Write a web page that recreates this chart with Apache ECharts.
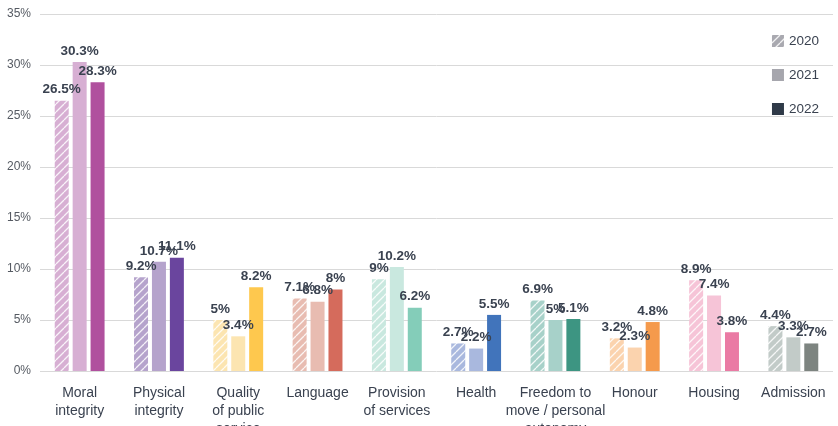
<!DOCTYPE html>
<html>
<head>
<meta charset="utf-8">
<script src="https://cdn.jsdelivr.net/npm/echarts@6/dist/echarts.min.js"></script>
<style>
    html, body { margin: 0; padding: 0; background: #fff; }
    #chart { width: 838px; height: 426px; }
</style>
</head>
<body>
<div id="chart"></div>
<script>
const categories = [
    "Moral\nintegrity",
    "Physical\nintegrity",
    "Quality\nof public\nservice",
    "Language",
    "Provision\nof services",
    "Health",
    "Freedom to\nmove / personal\nautonomy",
    "Honour",
    "Housing",
    "Admission"
];

const years = ["2020", "2021", "2022"];

const values2020 = [26.5, 9.2, 5, 7.1, 9, 2.7, 6.9, 3.2, 8.9, 4.4];
const values2021 = [30.3, 10.7, 3.4, 6.8, 10.2, 2.2, 5, 2.3, 7.4, 3.3];
const values2022 = [28.3, 11.1, 8.2, 8, 6.2, 5.5, 5.1, 4.8, 3.8, 2.7];

// light tone (2020 hatched + 2021) and dark tone (2022) per category
const lightColors = ["#d7afd3", "#b5a3cc", "#fce5b1", "#e8bcb1", "#c9e8df", "#a9b8de", "#a7d1c9", "#fbd3ae", "#f6c4d7", "#c2cbc8"];
const darkColors = ["#b0509e", "#6a459e", "#fec84e", "#d56b5c", "#84cdb9", "#4174bb", "#3d9582", "#f59a4c", "#ea7aa4", "#7d8480"];

const fontFamily = "'Liberation Sans', Arial, sans-serif";

function hatch(color) {
    const size = 8;
    const canvas = document.createElement("canvas");
    canvas.width = size;
    canvas.height = size;
    const ctx = canvas.getContext("2d");
    ctx.fillStyle = color;
    ctx.fillRect(0, 0, size, size);
    ctx.strokeStyle = "rgba(255,255,255,0.85)";
    ctx.lineWidth = 1.3;
    ctx.beginPath();
    for (let k = -1; k <= 1; k++) {
        ctx.moveTo(k * size, size);
        ctx.lineTo(k * size + size, 0);
    }
    ctx.stroke();
    return { image: canvas, repeat: "repeat" };
}

function yearSeries(name, values, colorFor) {
    return {
        name,
        type: "bar",
        barWidth: 14,
        barGap: "28%",
        label: {
            show: true,
            position: "top",
            distance: 4,
            formatter: p => p.value + "%",
            color: "#3a4250",
            fontWeight: "bold",
            fontSize: 13.5,
            fontFamily
        },
        labelLayout: {
            moveOverlap: "shiftY"
        },
        data: values.map((value, i) => ({
            value,
            itemStyle: { color: colorFor(i) }
        }))
    };
}

const chart = echarts.init(document.getElementById("chart"));

const series = [
    yearSeries("2020", values2020, i => hatch(lightColors[i])),
    yearSeries("2021", values2021, i => lightColors[i]),
    yearSeries("2022", values2022, i => darkColors[i])
];
series[0].itemStyle = { color: hatch("#a9a9b0") };
series[1].itemStyle = { color: "#a6a6ad" };
series[2].itemStyle = { color: "#2f3a48" };

chart.setOption({
    animation: false,
    textStyle: { fontFamily },
    grid: { left: 40, right: 5, top: 14, bottom: 55, outerBoundsMode: "none", containLabel: false },
    legend: {
        orient: "vertical",
        right: 14,
        top: 29,
        icon: "rect",
        itemWidth: 12,
        itemHeight: 12,
        itemGap: 20,
        data: years,
        textStyle: { fontSize: 13.5, color: "#3a4250", fontFamily }
    },
    xAxis: {
        type: "category",
        data: categories,
        axisLine: { show: false },
        axisTick: { show: false },
        axisLabel: {
            interval: 0,
            margin: 13,
            fontSize: 14,
            lineHeight: 18,
            color: "#3a4250",
            fontFamily
        }
    },
    yAxis: {
        type: "value",
        min: 0,
        max: 35,
        interval: 5,
        axisLabel: {
            formatter: "{value}%",
            fontSize: 12,
            color: "#555a62",
            margin: 9,
            fontFamily
        },
        splitLine: { lineStyle: { color: "#d9d9d9" } }
    },
    series
});
</script>
</body>
</html>
